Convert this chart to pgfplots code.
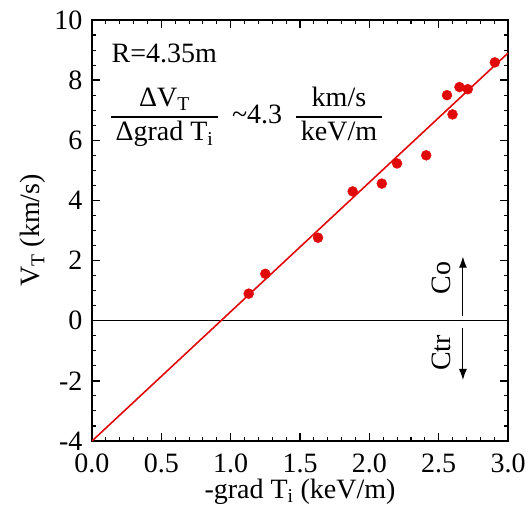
\documentclass[border=0pt]{standalone}
\usepackage{fontspec}
\setmainfont{Liberation Serif}
\usepackage{pgfplots}
\pgfplotsset{compat=1.18}
\usetikzlibrary{arrows.meta}
\definecolor{dred}{RGB}{225,10,10}
\setlength{\arrayrulewidth}{1.5bp}
\pgfkeys{/pgf/number format/assume math mode=true}
\begin{document}
\fontsize{28bp}{33bp}\selectfont
\begin{tikzpicture}
\begin{axis}[
  scale only axis, width=416bp, height=421bp,
  xmin=0, xmax=3, ymin=-4, ymax=10,
  xtick={0,0.5,1,1.5,2,2.5,3}, ytick={-4,-2,0,2,4,6,8,10},
  xticklabels={0.0,0.5,1.0,1.5,2.0,2.5,3.0},
  yticklabels={-4,-2,0,2,4,6,8,10},
  tick align=inside, major tick length=8pt,
  tick style={draw=none},
  axis line style={line width=1.6pt},
  x tick label style={anchor=base, yshift=-31bp},
  xlabel={-grad T\textsubscript{i} (keV/m)},
  ylabel={V\textsubscript{T} (km/s)},
  xlabel style={at={(axis description cs:0.5,-0.1354)}, anchor=base},
  ylabel style={at={(axis description cs:-0.125,0.5)}, anchor=base},
  clip=false,
]
\pgfplotsinvokeforeach{0,0.1,...,3.05}{
  \draw[black, line width=1.1pt] (axis cs:#1,-4) -- ([yshift=4.5pt]axis cs:#1,-4);
  \draw[black, line width=1.1pt] (axis cs:#1,10) -- ([yshift=-4.5pt]axis cs:#1,10);
}
\pgfplotsinvokeforeach{0,0.5,...,3.05}{
  \draw[black, line width=1.3pt] (axis cs:#1,-4) -- ([yshift=8pt]axis cs:#1,-4);
  \draw[black, line width=1.3pt] (axis cs:#1,10) -- ([yshift=-8pt]axis cs:#1,10);
}
\pgfplotsinvokeforeach{-4,-3.5,...,10.1}{
  \draw[black, line width=1.1pt] (axis cs:0,#1) -- ([xshift=4.5pt]axis cs:0,#1);
  \draw[black, line width=1.1pt] (axis cs:3,#1) -- ([xshift=-4.5pt]axis cs:3,#1);
}
\pgfplotsinvokeforeach{-4,-2,...,10.1}{
  \draw[black, line width=1.3pt] (axis cs:0,#1) -- ([xshift=8pt]axis cs:0,#1);
  \draw[black, line width=1.3pt] (axis cs:3,#1) -- ([xshift=-8pt]axis cs:3,#1);
}
\addplot[black, line width=0.8bp, forget plot] coordinates {(0,0) (3,0)};
\addplot[dred, line width=1.6bp, forget plot] coordinates {(0,-4) (3,8.9)};
\addplot[only marks, mark=*, mark size=5bp, dred, mark options={draw=dred, fill=dred}] table {
x y
1.13 0.90
1.25 1.56
1.63 2.76
1.88 4.30
2.09 4.56
2.20 5.23
2.41 5.50
2.56 7.50
2.60 6.86
2.65 7.77
2.71 7.70
2.905 8.59
};
\node[anchor=base west, inner sep=0] at (axis cs:0.14,8.6) {R=4.35m};
\node[anchor=west, inner sep=0] at (axis cs:0.135,6.77) {\begin{tabular}{@{\,}c@{\,}}ΔV\textsubscript{T}\\\hline Δgrad T\textsubscript{i}\end{tabular}\enspace\textasciitilde 4.3\enspace\begin{tabular}{@{\,}c@{\,}}km/s\\\hline keV/m\end{tabular}};
\draw[black, line width=1bp, -{Latex[length=11bp,width=8bp]}] (axis cs:2.675,0.17) -- (axis cs:2.675,2.13);
\draw[black, line width=1bp, -{Latex[length=11bp,width=8bp]}] (axis cs:2.675,-0.23) -- (axis cs:2.675,-1.97);
\node[rotate=90, anchor=base, inner sep=0] at (axis cs:2.585,1.43) {Co};
\node[rotate=90, anchor=base, inner sep=0] at (axis cs:2.585,-1.07) {Ctr};
\end{axis}
\pgfresetboundingbox
\useasboundingbox ([shift={(-92bp,-74bp)}]current axis.south west) rectangle ([shift={(21bp,20bp)}]current axis.north east);
\end{tikzpicture}
\end{document}
